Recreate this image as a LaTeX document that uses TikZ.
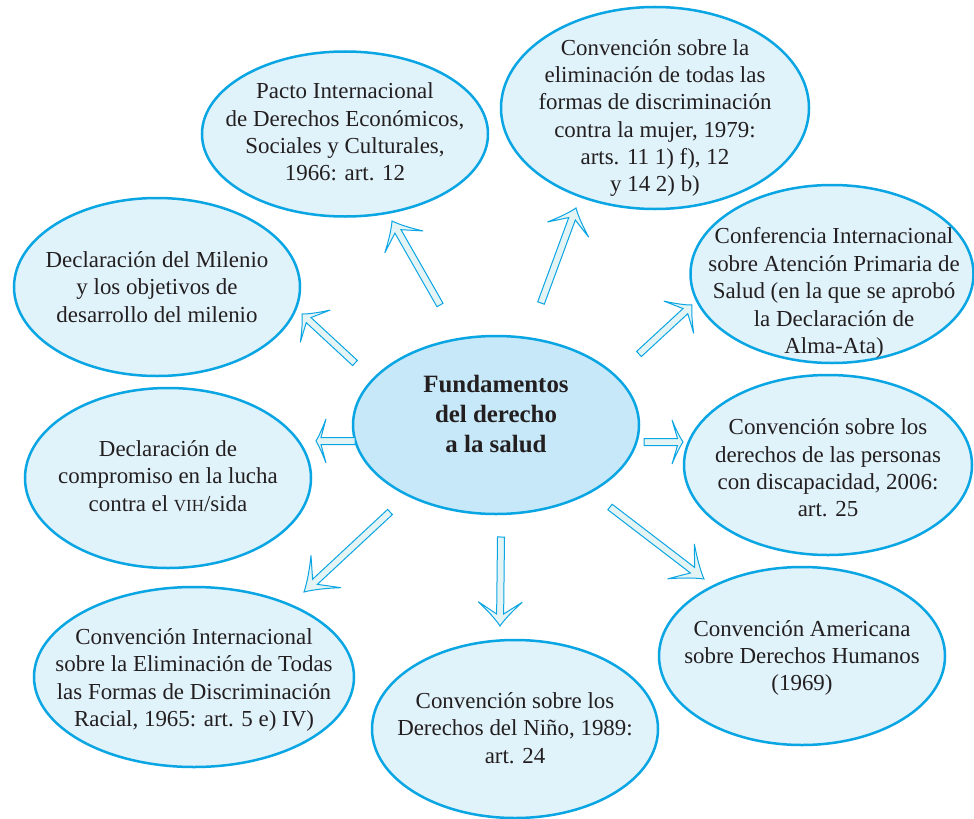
\documentclass[tikz,border=0pt]{standalone}
\usepackage{fontspec}
\setmainfont{Liberation Serif}
\usetikzlibrary{shapes.geometric,calc}
\definecolor{lineblue}{HTML}{0AA5E3}
\definecolor{ellfill}{HTML}{E0F2FA}
\definecolor{hubfill}{HTML}{C7E8F8}
\definecolor{arrfill}{HTML}{E4F4F4}
\definecolor{txt}{HTML}{231F20}
\tikzset{
 bubble/.style={ellipse, draw=lineblue, line width=2.5bp, fill=ellfill, inner sep=0pt},
 hub/.style={bubble, fill=hubfill},
 btext/.style={align=center, text=txt, font=\fontsize{23}{27.5}\selectfont, inner sep=0pt},
 hubtext/.style={align=center, text=txt, inner sep=0pt, font=\fontsize{25}{30.5}\selectfont\bfseries},
 harr/.style={draw=lineblue, line width=1bp, fill=arrfill, line join=miter},
}
\newcommand\harrow[3]{%
 \pgfmathsetmacro\hj{0.5*#3}%
 \pgfmathsetmacro\hc{0.62*#3}%
 \pgfmathsetmacro\hd{0.25*#3}%
 \draw[harr] ($(#1)!3.5bp!90:(#2)$)
  -- ($(#2)!\hj bp!(#1)!3.5bp!-90:(#1)$)
  -- ($(#2)!#3bp!(#1)!22bp!-90:(#1)$)
  .. controls ($(#2)!\hc bp!(#1)!12bp!-90:(#1)$) and ($(#2)!\hd bp!(#1)!4bp!-90:(#1)$) .. (#2)
  .. controls ($(#2)!\hd bp!(#1)!4bp!90:(#1)$) and ($(#2)!\hc bp!(#1)!12bp!90:(#1)$) .. ($(#2)!#3bp!(#1)!22bp!90:(#1)$)
  -- ($(#2)!\hj bp!(#1)!3.5bp!90:(#1)$)
  -- ($(#1)!3.5bp!-90:(#2)$) -- cycle;
}
\begin{document}
\begin{tikzpicture}[x=1bp,y=-1bp]
\fill[white] (0,0) rectangle (974,819);
\useasboundingbox (0,0) rectangle (974,819);
% ellipses
\node[hub, minimum width=286bp, minimum height=178bp] (hubE) at (496,425) {};
\node[bubble, minimum width=286bp, minimum height=165bp] (pactoE) at (345,134) {};
\node[bubble, minimum width=308bp, minimum height=202bp] (mujerE) at (655,108) {};
\node[bubble, minimum width=283bp, minimum height=178bp] (confE) at (832,274) {};
\node[bubble, minimum width=286bp, minimum height=178bp] (milE) at (157,287) {};
\node[bubble, minimum width=286bp, minimum height=180bp] (compE) at (168,478) {};
\node[bubble, minimum width=288bp, minimum height=180bp] (discE) at (828,465) {};
\node[bubble, minimum width=320bp, minimum height=180bp] (racE) at (194,677) {};
\node[bubble, minimum width=286bp, minimum height=178bp] (ninoE) at (515,729) {};
\node[bubble, minimum width=286bp, minimum height=178bp] (amerE) at (802,656) {};
% texts
\node[hubtext] (hubT) at (496,414) {Fundamentos\\del derecho\\a la salud};
\node[btext] (pactoT) at (345,132) {Pacto Internacional\\de Derechos Económicos,\\Sociales y Culturales,\\1966: art. 12};
\node[btext] (mujerT) at (655,118) {Convención sobre la\\eliminación de todas las\\formas de discriminación\\contra la mujer, 1979:\\arts. 11 1) f), 12\\y 14 2) b)};
\node[btext] (confT) at (834,293) {Conferencia Internacional\\sobre Atención Primaria de\\Salud (en la que se aprobó\\la Declaración de\\Alma-Ata)};
\node[btext] (milT) at (157,287) {Declaración del Milenio\\y los objetivos de\\desarrollo del milenio};
\node[btext] (compT) at (168,476) {Declaración de\\compromiso en la lucha\\contra el {\fontsize{17}{17}\selectfont VIH}/sida};
\node[btext] (discT) at (828,468) {Convención sobre los\\derechos de las personas\\con discapacidad, 2006:\\art. 25};
\node[btext] (racT) at (194,680) {Convención Internacional\\sobre la Eliminación de Todas\\las Formas de Discriminación\\Racial, 1965: art. 5 e) IV)};
\node[btext] (ninoT) at (515,728) {Convención sobre los\\Derechos del Niño, 1989:\\art. 24};
\node[btext] (amerT) at (802,658) {Convención Americana\\sobre Derechos Humanos\\(1969)};
% arrow end points
\coordinate (a1s) at (440,305); \coordinate (a1e) at (392,221);
\coordinate (a2s) at (355,363); \coordinate (a2e) at (302,314);
\coordinate (a3s) at (541,303); \coordinate (a3e) at (576,208);
\coordinate (a4s) at (639,354); \coordinate (a4e) at (692,305);
\coordinate (a5s) at (644,442); \coordinate (a5e) at (683,442);
\coordinate (a6s) at (355,441); \coordinate (a6e) at (316,441);
\coordinate (a7s) at (390,512); \coordinate (a7e) at (304,592);
\coordinate (a8s) at (501,537); \coordinate (a8e) at (500,626);
\coordinate (a9s) at (610,507); \coordinate (a9e) at (704,579);
\harrow{a1s}{a1e}{24}
\harrow{a2s}{a2e}{18}
\harrow{a3s}{a3e}{23}
\harrow{a4s}{a4e}{18}
\harrow{a5s}{a5e}{11}
\harrow{a6s}{a6e}{10}
\harrow{a7s}{a7e}{30}
\harrow{a8s}{a8e}{24}
\harrow{a9s}{a9e}{29}
\end{tikzpicture}
\end{document}
